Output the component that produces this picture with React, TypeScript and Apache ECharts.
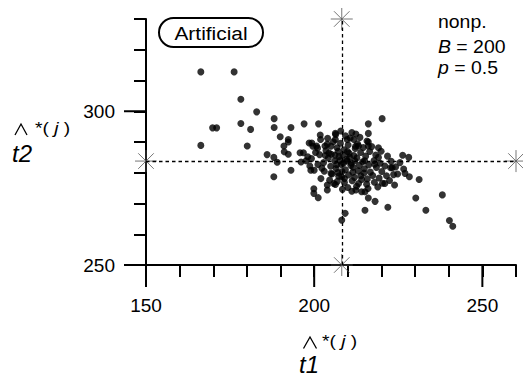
import { useEffect, useRef } from "react";
import * as echarts from "echarts";

const X_MIN = 150;
const X_MAX = 260;
const Y_MIN = 250;
const Y_MAX = 330;
const MINOR_STEP = 10;
const X_MAJOR = [150, 200, 250];
const Y_MAJOR = [250, 300];

// original estimates (dashed cross-hair)
const CENTER_T1 = 208.2;
const CENTER_T2 = 283.8;

const PANEL_LABEL = "Artificial";
const INFO_LINE1 = "nonp.";
const INFO_B = "200";
const INFO_P = "0.5";

// bootstrap replicates: scattered outer points
const OUTER_POINTS: [number, number][] = [
  [166.3, 312.8], [176.2, 312.8], [178.2, 303.9], [182.9, 299.8], [169.8, 294.6],
  [171.0, 294.6], [178.2, 296.0], [181.1, 294.1], [166.3, 288.9], [180.1, 288.7],
  [188.1, 297.6], [188.1, 294.7], [193.1, 294.7], [197.0, 295.9], [201.3, 295.9],
  [189.9, 291.7], [192.3, 290.8], [192.3, 290.0], [191.0, 288.7], [191.1, 286.8],
  [192.3, 286.0], [186.0, 285.9], [188.0, 285.0], [189.0, 283.4], [193.1, 280.8],
  [188.0, 278.7], [195.8, 286.5], [196.8, 286.5], [196.1, 283.5], [198.1, 285.2],
  [198.5, 289.7], [199.3, 289.7], [201.8, 292.3], [201.9, 290.8], [200.7, 288.7],
  [203.2, 288.7], [206.3, 292.8], [206.3, 290.8], [209.8, 290.8], [211.8, 290.8],
  [216.1, 295.9], [216.1, 292.8], [216.1, 290.0], [216.1, 288.7], [220.2, 297.6],
  [219.1, 288.1], [213.2, 288.7], [226.3, 285.7], [228.1, 285.0], [219.1, 285.0],
  [222.7, 281.6], [223.2, 281.6], [224.8, 279.6], [227.0, 279.8], [231.2, 277.8],
  [228.3, 278.7], [223.9, 276.0], [221.0, 276.5], [230.2, 271.8], [238.1, 272.8],
  [233.2, 267.8], [221.9, 268.8], [218.1, 270.7], [216.1, 271.8], [215.1, 267.8],
  [240.2, 264.5], [241.2, 262.6], [209.2, 266.8], [208.2, 264.6], [199.9, 274.8],
  [199.9, 273.3], [201.2, 271.9], [203.9, 276.0], [203.9, 274.4], [206.3, 276.2],
  [208.4, 274.6], [211.2, 274.0], [212.4, 274.4], [214.1, 273.8], [215.1, 273.8],
  [202.0, 278.1], [199.0, 280.8], [200.0, 280.8], [205.0, 279.8], [208.2, 278.7],
];

// bootstrap replicates: dense central cloud
const CORE_POINTS: [number, number][] = [
  [203.5, 287.2], [205.1, 286.0], [206.8, 288.1], [208.9, 287.5], [210.4, 286.3],
  [212.2, 287.9], [213.8, 286.6], [215.3, 285.4], [204.2, 284.8], [206.1, 283.9],
  [207.4, 285.3], [209.6, 284.4], [211.0, 283.2], [212.7, 284.9], [214.4, 283.6],
  [216.2, 282.5], [217.8, 284.0], [201.6, 285.9], [202.8, 283.3], [204.9, 282.1],
  [206.5, 281.4], [208.1, 282.7], [209.3, 281.0], [211.6, 281.8], [213.1, 280.6],
  [214.9, 281.3], [216.7, 280.2], [218.5, 281.7], [220.1, 280.4], [203.0, 280.5],
  [205.3, 279.6], [207.0, 280.1], [210.2, 279.3], [212.0, 278.5], [213.9, 279.0],
  [215.8, 278.0], [217.4, 279.1], [219.3, 278.3], [221.5, 279.0], [204.6, 277.6],
  [206.9, 277.2], [209.0, 276.8], [211.3, 277.4], [213.2, 276.5], [215.6, 276.3],
  [217.9, 276.9], [220.3, 276.6], [222.4, 277.5], [207.8, 289.6], [210.1, 289.0],
  [212.9, 289.4], [214.6, 288.2], [205.7, 290.1], [203.9, 289.3], [209.3, 292.0],
  [211.2, 293.1], [207.9, 293.6], [213.6, 291.5], [200.4, 286.6], [199.2, 284.6],
  [197.6, 283.9], [201.1, 282.7], [198.7, 282.2], [202.3, 281.5], [207.6, 284.0],
  [208.5, 285.8], [209.9, 286.9], [211.8, 285.6], [213.4, 282.4], [215.0, 283.9],
  [216.5, 286.9], [218.3, 285.8], [219.6, 283.1], [221.0, 282.2], [222.9, 283.7],
  [224.2, 281.9], [225.5, 283.3], [206.2, 285.7], [205.0, 288.6], [210.7, 291.3],
  [212.4, 292.6], [208.3, 280.4], [210.9, 282.4], [214.1, 277.8], [216.0, 274.9],
  [218.9, 275.4], [212.6, 275.6], [210.0, 275.2], [207.3, 278.9], [205.8, 276.5],
  [219.9, 287.0], [217.1, 288.5], [215.7, 290.3], [203.3, 285.6], [201.0, 288.0],
  [199.6, 288.6], [204.0, 291.2], [206.4, 292.4], [226.6, 281.2], [223.6, 279.4],
  [221.8, 285.4], [218.0, 282.8], [212.3, 288.6], [209.7, 283.8], [207.1, 287.0],
  [208.7, 283.1], [210.5, 285.1], [206.7, 282.6], [212.1, 283.9], [204.4, 286.4],
  [214.8, 279.9], [211.5, 280.2], [209.0, 278.1],
];

const FONT = '"Liberation Sans", Arial, Helvetica, sans-serif';
const ASTERISK =
  "path://M0,-10L0,10M-10,0L10,0M-7.07,-7.07L7.07,7.07M-7.07,7.07L7.07,-7.07";
const MAJOR_TICK_LEN = 22;

export default function App() {
  const ref = useRef<HTMLDivElement>(null);

  useEffect(() => {
    if (!ref.current) return;
    const chart = echarts.init(ref.current, undefined, { renderer: "svg" });

    const axisLineStyle = { color: "#000", width: 2 };
    const labelStyle = {
      color: "#000",
      fontSize: 19,
      fontFamily: FONT,
    };

    const italicRich = (size: number) => ({
      i: { fontStyle: "italic", fontSize: size, fontFamily: FONT },
    });

    const plainText = (
      x: number,
      y: number,
      text: string,
      font: string,
      scaleX = 1,
      rich?: any,
    ) => ({
      type: "text",
      x,
      y,
      originX: 0,
      originY: 0,
      scaleX,
      z: 11,
      style: {
        text,
        font,
        fill: "#000",
        align: "left",
        verticalAlign: "middle",
        ...(rich ? { rich } : {}),
      },
    });

    const hat = (left: number, top: number, w: number, h: number) => ({
      type: "polyline",
      z: 11,
      shape: {
        points: [
          [left, top + h],
          [left + w / 2, top],
          [left + w, top + h],
        ],
      },
      style: { stroke: "#000", lineWidth: 1.3, fill: "none" },
    });

    const option: any = {
      animation: false,
      backgroundColor: "#fff",
      textStyle: { fontFamily: FONT },
      grid: { left: 146, right: 7, top: 19, bottom: 112, containLabel: false },
      xAxis: {
        type: "value",
        min: X_MIN,
        max: X_MAX,
        interval: MINOR_STEP,
        axisLine: { show: true, lineStyle: axisLineStyle },
        axisTick: { show: true, length: 12, lineStyle: { color: "#000", width: 2 } },
        axisLabel: {
          ...labelStyle,
          margin: 31,
          formatter: (v: number) => (X_MAJOR.includes(v) ? String(v) : ""),
        },
        splitLine: { show: false },
      },
      yAxis: {
        type: "value",
        min: Y_MIN,
        max: Y_MAX,
        interval: MINOR_STEP,
        axisLine: { show: true, lineStyle: axisLineStyle },
        axisTick: { show: true, length: 12, lineStyle: { color: "#000", width: 2 } },
        axisLabel: {
          ...labelStyle,
          margin: 31,
          formatter: (v: number) => (Y_MAJOR.includes(v) ? String(v) : ""),
        },
        splitLine: { show: false },
      },
      series: [
        {
          type: "scatter",
          symbol: "circle",
          symbolSize: 7,
          itemStyle: { color: "#000" },
          data: [...OUTER_POINTS, ...CORE_POINTS],
          clip: false,
          markLine: {
            silent: true,
            symbol: "none",
            label: { show: false },
            lineStyle: { color: "#000", width: 1.3, type: [3.5, 3] },
            data: [
              [{ coord: [CENTER_T1, Y_MIN] }, { coord: [CENTER_T1, Y_MAX] }],
              [{ coord: [X_MIN, CENTER_T2] }, { coord: [X_MAX, CENTER_T2] }],
            ],
          },
        },
        {
          type: "scatter",
          symbol: ASTERISK,
          symbolSize: 22,
          clip: false,
          itemStyle: { color: "rgba(0,0,0,0)", borderColor: "#555", borderWidth: 1 },
          data: [
            [CENTER_T1, Y_MIN],
            [CENTER_T1, Y_MAX],
            [X_MIN, CENTER_T2],
            [X_MAX, CENTER_T2],
          ],
        },
      ],
    };

    chart.setOption(option);

    // long (major) ticks, placed through the axes' own scales
    const majorTicks: any[] = [
      ...X_MAJOR.map((v) => {
        const [px, py] = chart.convertToPixel({ gridIndex: 0 }, [v, Y_MIN]) as number[];
        return {
          type: "line",
          z: 12,
          shape: { x1: px, y1: py, x2: px, y2: py + MAJOR_TICK_LEN },
          style: { stroke: "#000", lineWidth: 2 },
        };
      }),
      ...Y_MAJOR.map((v) => {
        const [px, py] = chart.convertToPixel({ gridIndex: 0 }, [X_MIN, v]) as number[];
        return {
          type: "line",
          z: 12,
          shape: { x1: px, y1: py, x2: px - MAJOR_TICK_LEN, y2: py },
          style: { stroke: "#000", lineWidth: 2 },
        };
      }),
    ];

    chart.setOption({
      graphic: [
        {
          type: "rect",
          shape: { x: 159, y: 18, width: 104, height: 29, r: 14.5 },
          style: { fill: "#fff", stroke: "#000", lineWidth: 2 },
          z: 10,
        },
        {
          type: "text",
          x: 211,
          y: 33,
          originX: 0,
          originY: 0,
          scaleX: 1.1,
          z: 11,
          style: {
            text: PANEL_LABEL,
            font: `19px ${FONT}`,
            fill: "#000",
            align: "center",
            verticalAlign: "middle",
          },
        },
        plainText(438, 22, INFO_LINE1, `18px ${FONT}`, 1.08),
        plainText(438, 47, `{i|B} = ${INFO_B}`, `18px ${FONT}`, 1.08, italicRich(18)),
        plainText(438, 68, `{i|p} = ${INFO_P}`, `18px ${FONT}`, 1.08, italicRich(18)),
        // y axis name: hat, superscript, italic t2
        hat(15, 124, 12, 11),
        plainText(35, 129, "*( {i|j} )", `16px ${FONT}`, 1.2, italicRich(16)),
        plainText(12, 153, "t2", `italic 24px ${FONT}`),
        // x axis name: hat, superscript, italic t1
        hat(303.5, 337, 13, 11.5),
        plainText(322, 342, "*( {i|j} )", `16px ${FONT}`, 1.2, italicRich(16)),
        plainText(299, 364, "t1", `italic 24px ${FONT}`),
        ...majorTicks,
      ],
    });

    return () => chart.dispose();
  }, []);

  return (
    <div
      ref={ref}
      style={{ position: "fixed", left: 0, top: 0, width: 523, height: 377, background: "#fff" }}
    />
  );
}
